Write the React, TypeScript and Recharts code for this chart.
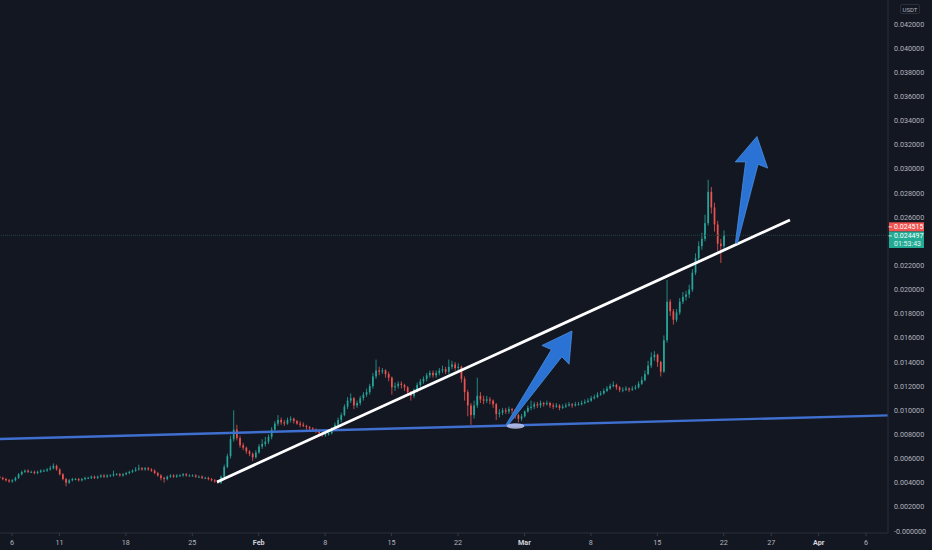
// Candles 8h — gráfico estilo TradingView escuro
import { ComposedChart, Bar, XAxis, YAxis, ReferenceLine, ReferenceDot } from 'recharts'

const UNIT = 0.0001 // prices below are in units of 0.0001 USDT

// time axis: day index, Jan 1 = 0
const firstCandleDay = 11 / 3
const candleStepDays = 1 / 3
const firstOpen = 45

const closes = [
  44, 43, 42, 41, 42, 44, 47, 49, 50, 49,
  49, 48, 49, 50, 50, 51, 52, 54, 51, 47,
  43, 40, 42, 43, 43, 42, 43, 44, 44, 45,
  44, 45, 46, 45, 46, 46, 47, 47, 46, 47,
  48, 49, 50, 51, 52, 51, 52, 51, 50, 48,
  46, 44, 43, 45, 46, 45, 46, 46, 47, 46,
  46, 46, 45, 45, 44, 44, 43, 42, 41, 40,
  45, 53, 62, 76, 84, 77, 71, 69, 66, 64,
  61, 65, 70, 72, 74, 78, 84, 89, 92, 90,
  89, 92, 93, 91, 89, 88, 87, 86, 85, 84,
  83, 81, 80, 80, 81, 84, 88, 92, 96, 103,
  108, 110, 104, 106, 110, 113, 115, 120, 128, 133,
  132, 133, 130, 127, 119, 120, 122, 121, 119, 115,
  112, 117, 121, 124, 126, 129, 131, 129, 131, 133,
  134, 132, 136, 138, 135, 136, 126, 115, 104, 96,
  104, 112, 109, 108, 109, 108, 105, 97, 98, 100,
  99, 101, 100, 96, 93, 95, 99, 102, 103, 105,
  104, 106, 105, 106, 104, 103, 104, 102, 103, 104,
  105, 104, 105, 105, 106, 107, 108, 110, 111, 113,
  114, 116, 118, 120, 121, 119, 117, 117, 118, 117,
  118, 119, 122, 125, 130, 137, 144, 146, 140, 132,
  158, 190, 182, 175, 181, 190, 194, 196, 200, 214,
  226, 236, 242, 255, 281, 268, 254, 238, 236, 244.97,
]

const highs = [
  46, 45, 44, 43, 43, 45, 48, 50, 51, 51,
  50, 50, 50, 51, 51, 52, 54, 56, 55, 52,
  48, 44, 43, 44, 44, 44, 44, 45, 45, 46,
  46, 46, 47, 47, 47, 47, 50, 48, 48, 48,
  49, 50, 51, 53, 55, 53, 53, 53, 52, 51,
  49, 47, 45, 46, 47, 47, 47, 47, 48, 48,
  47, 47, 47, 46, 46, 45, 45, 44, 43, 42,
  46, 55, 64, 79, 100, 88, 79, 73, 70, 67,
  65, 67, 72, 76, 78, 80, 86, 91, 96, 94,
  92, 94, 95, 94, 92, 91, 90, 88, 87, 86,
  85, 84, 82, 82, 83, 86, 90, 94, 98, 105,
  111, 114, 111, 108, 112, 115, 118, 122, 131, 142,
  136, 135, 134, 132, 128, 123, 124, 124, 122, 120,
  116, 118, 123, 126, 128, 131, 133, 133, 133, 135,
  137, 136, 142, 141, 140, 139, 137, 128, 117, 106,
  108, 127, 115, 112, 112, 111, 109, 106, 101, 102,
  102, 103, 102, 101, 97, 97, 100, 104, 108, 107,
  107, 108, 107, 108, 107, 106, 106, 105, 105, 106,
  107, 106, 107, 107, 108, 109, 110, 112, 113, 115,
  116, 118, 120, 122, 124, 122, 120, 119, 120, 119,
  120, 121, 124, 128, 133, 141, 148, 149, 147, 141,
  162, 208, 192, 184, 184, 193, 198, 199, 204, 217,
  230, 240, 247, 262, 291, 285, 272, 257, 242, 249,
]

const lows = [
  43, 42, 41, 40, 40, 41, 43, 46, 48, 48,
  48, 47, 47, 48, 49, 49, 50, 51, 50, 46,
  42, 37, 39, 41, 42, 41, 41, 42, 43, 43,
  43, 43, 44, 44, 44, 45, 45, 46, 45, 45,
  46, 47, 48, 49, 50, 50, 50, 50, 49, 47,
  45, 42, 40, 42, 44, 44, 44, 45, 45, 45,
  45, 45, 44, 44, 43, 43, 42, 41, 40, 39,
  39, 44, 52, 60, 74, 75, 69, 67, 64, 62,
  58, 60, 64, 68, 70, 72, 76, 82, 87, 88,
  87, 88, 90, 89, 88, 86, 86, 84, 83, 82,
  81, 79, 78, 78, 79, 80, 83, 86, 90, 95,
  101, 106, 101, 102, 104, 108, 111, 113, 118, 126,
  129, 130, 127, 124, 113, 116, 118, 118, 116, 112,
  108, 110, 115, 119, 122, 124, 127, 127, 127, 129,
  131, 130, 130, 134, 133, 132, 123, 108, 95, 88,
  93, 102, 106, 105, 106, 105, 102, 92, 94, 96,
  97, 97, 97, 93, 90, 91, 94, 98, 100, 101,
  102, 102, 103, 104, 102, 101, 102, 100, 101, 102,
  103, 102, 103, 104, 104, 105, 106, 107, 109, 110,
  112, 113, 115, 117, 119, 117, 115, 115, 116, 115,
  116, 117, 118, 121, 124, 129, 135, 141, 136, 128,
  131, 156, 178, 171, 173, 179, 188, 191, 193, 198,
  212, 223, 233, 240, 253, 263, 248, 232, 222, 233,
]

const xTickDays = [5, 10, 17, 24, 31, 38, 45, 52, 59, 66, 73, 80, 85, 90, 95]
const xTickLabels = ['6', '11', '18', '25', 'Feb', '8', '15', '22', 'Mar', '8', '15', '22', '27', 'Apr', '6']
const yTicks = [
  0, 0.002, 0.004, 0.006, 0.008, 0.01, 0.012, 0.014, 0.016, 0.018, 0.02, 0.022,
  0.026, 0.028, 0.03, 0.032, 0.034, 0.036, 0.038, 0.04, 0.042,
]

// drawings (day, price)
const supportLine = [{ x: 3.735, y: 0.00762 }, { x: 97.31, y: 0.00958 }]
const trendLine = [{ x: 26.6, y: 0.00406 }, { x: 86.98, y: 0.02577 }]
const arrowLow = [{ x: 57.16, y: 0.00878 }, { x: 64.01, y: 0.01657 }]
const arrowHigh = [{ x: 81.34, y: 0.02386 }, { x: 83.5, y: 0.03268 }]
const bounceMark = { x: 58.06, y: 0.0087 }

const lastPrice = 0.024497
const priceTags = ['0.024515', '0.024497', '01:53:43']

const candles = closes.map((c, i) => {
  const open = i === 0 ? firstOpen : closes[i - 1]
  return {
    day: firstCandleDay + i * candleStepDays,
    open: open * UNIT,
    close: c * UNIT,
    range: [lows[i] * UNIT, highs[i] * UNIT],
  }
})

const BG = '#131722'
const UP = '#26a69a'
const DOWN = '#ef5350'
const TEXT = '#b2b5be'
const AXIS = '#2a2e39'
const FONT = "Roboto, 'Noto Sans', sans-serif"

function Candle(props: any) {
  const { x, y, width, height, payload } = props
  if (x == null || !payload) return null
  const [low, high] = payload.range
  const top = Math.min(y, y + height)
  const h = Math.abs(height)
  const k = high > low ? h / (high - low) : 0
  const py = (v: number) => top + (high - v) * k
  const color = payload.close >= payload.open ? UP : DOWN
  const bTop = py(Math.max(payload.open, payload.close))
  const bBot = py(Math.min(payload.open, payload.close))
  const cx = x + width / 2
  return (
    <g>
      <line x1={cx} x2={cx} y1={top} y2={top + h} stroke={color} strokeWidth={0.8} />
      <rect x={x} y={bTop} width={width} height={Math.max(bBot - bTop, 0.9)} fill={color} />
    </g>
  )
}

function Arrow(props: any) {
  const { x1, y1, x2, y2 } = props
  const dx = x2 - x1
  const dy = y2 - y1
  const len = Math.hypot(dx, dy)
  if (!len) return null
  const ux = dx / len
  const uy = dy / len
  const nx = -uy
  const ny = ux
  const pt = (a: number, s: number) => `${x1 + ux * a + nx * s},${y1 + uy * a + ny * s}`
  const points = [
    pt(0, -1), pt(len - 27, -6.3), pt(len - 29, -16.5), pt(len, 0),
    pt(len - 29, 16.5), pt(len - 27, 6.3), pt(0, 1),
  ].join(' ')
  return <polygon points={points} fill="#2a73d4" stroke="#4a8fe0" strokeWidth={0.8} strokeLinejoin="round" />
}

function XTick(props: any) {
  const { x, y, payload } = props
  const label = xTickLabels[xTickDays.indexOf(payload.value)] ?? ''
  const month = /^[A-Z]/.test(label)
  return (
    <text x={x} y={y} dy="0.71em" textAnchor="middle" fill={month ? '#d1d4dc' : TEXT}
      fontSize={7.2} fontWeight={month ? 700 : 400} fontFamily={FONT}>
      {label}
    </text>
  )
}

function PriceTags(props: any) {
  const vb = props.viewBox
  if (!vb) return null
  const x = vb.x + vb.width
  const y = vb.y
  return (
    <g fontFamily={FONT} fontSize={7}>
      <rect x={x + 1} y={y - 13} width={35} height={9.2} fill="#f05350" />
      <text x={x + 6} y={y - 8.4} dy="0.355em" fill="#fff">{priceTags[0]}</text>
      <line x1={x} x2={x + 4} y1={y - 8.4} y2={y - 8.4} stroke="#fff" strokeWidth={0.8} />
      <rect x={x + 1} y={y - 3.8} width={35} height={16.5} fill="#22ab94" />
      <text x={x + 6} y={y + 0.6} dy="0.355em" fill="#fff">{priceTags[1]}</text>
      <line x1={x} x2={x + 4} y1={y + 0.6} y2={y + 0.6} stroke="#fff" strokeWidth={0.8} />
      <text x={x + 6} y={y + 8.6} dy="0.355em" fill="#e8f5f2">{priceTags[2]}</text>
    </g>
  )
}

export default function App() {
  return (
    <div style={{ position: 'relative', width: 932, height: 550, background: BG }}>
      <style>{`body{margin:0;background:${BG}}`}</style>
      <ComposedChart width={932} height={550} data={candles} margin={{ top: 0, right: 0, bottom: 0, left: 0 }}>
        <XAxis
          dataKey="day"
          type="number"
          domain={[3.735, 97.31]}
          allowDataOverflow
          ticks={xTickDays}
          tick={<XTick />}
          height={17}
          axisLine={{ stroke: AXIS }}
          tickLine={{ stroke: '#363a45' }}
          tickSize={3}
          tickMargin={4}
          interval={0}
        />
        <YAxis
          orientation="right"
          type="number"
          domain={[-0.000166, 0.04399]}
          allowDataOverflow
          ticks={yTicks}
          interval={0}
          width={44}
          axisLine={{ stroke: AXIS }}
          tickLine={false}
          tickSize={4}
          tickMargin={2}
          tick={{ fill: TEXT, fontSize: 7.2, fontFamily: FONT }}
          tickFormatter={(v: number) => (v === 0 ? '-0.000000' : v.toFixed(6))}
        />
        <Bar dataKey="range" shape={<Candle />} barSize={1.7} isAnimationActive={false} />
        <ReferenceLine
          y={lastPrice}
          stroke="#24403f"
          strokeDasharray="1 1"
          ifOverflow="visible"
          label={{ content: (p: any) => <PriceTags viewBox={p.viewBox} /> }}
        />
        <ReferenceLine segment={supportLine} stroke="#3f6fcf" strokeWidth={2.4} ifOverflow="hidden" />
        <ReferenceLine segment={trendLine} stroke="#ffffff" strokeWidth={2.8} ifOverflow="hidden" />
        <ReferenceDot
          x={bounceMark.x}
          y={bounceMark.y}
          r={3}
          shape={(p: any) => <ellipse cx={p.cx} cy={p.cy} rx={9} ry={2.8} fill="#b7c3ea" opacity={0.85} />}
        />
        <ReferenceLine segment={arrowLow} shape={<Arrow />} ifOverflow="visible" />
        <ReferenceLine segment={arrowHigh} shape={<Arrow />} ifOverflow="visible" />
      </ComposedChart>
      <div
        style={{
          position: 'absolute', left: 900, top: 4, width: 20, height: 10, border: '1px solid #2a2e39',
          borderRadius: 2, color: TEXT, fontSize: 6, fontFamily: FONT, lineHeight: '10px', textAlign: 'center',
          boxSizing: 'border-box',
        }}
      >
        USDT
      </div>
    </div>
  )
}
